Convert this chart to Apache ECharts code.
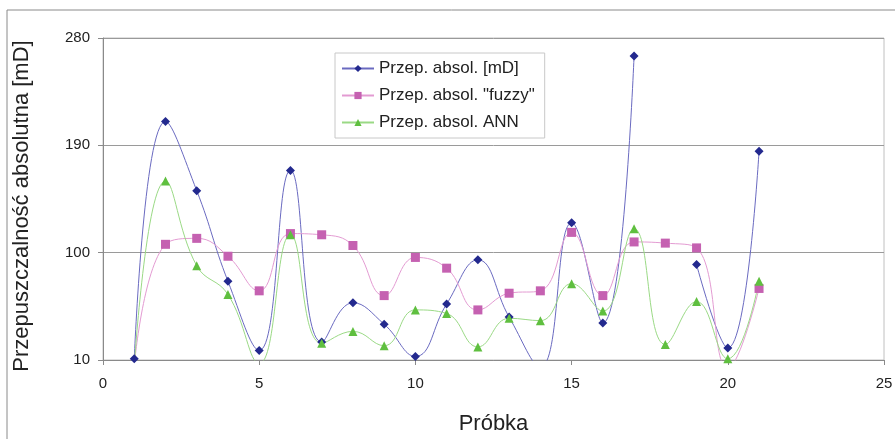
<!DOCTYPE html>
<html>
<head>
<meta charset="utf-8">
<script src="https://cdn.jsdelivr.net/npm/echarts@6/dist/echarts.min.js"></script>
<style>html,body{margin:0;padding:0;background:#fff;}#c{width:895px;height:439px;}</style>
</head>
<body>
<div id="c"></div>
<script>
const samples = [1,2,3,4,5,6,7,8,9,10,11,12,13,14,15,16,17,18,19,20,21];
const absol = [11,210,152,76,18,169,25,58,40,13,57,94,46,4,125,41,265,null,90,20,185];
const fuzzy = [5,107,112,97,68,116,115,106,64,96,87,52,66,68,117,64,109,108,104,3,70];
const ann = [5,160,89,65,7,115,24,34,22,52,49,21,45,43,74,51,120,23,59,11,76];
const seriesNames = ['Przep. absol. [mD]', 'Przep. absol. "fuzzy"', 'Przep. absol. ANN'];
const xTicks = {min: 0, max: 25, step: 5};
const yTicks = {min: 10, max: 280, step: 90};
const yTitle = 'Przepuszczalność absolutna [mD]';
const xTitle = 'Próbka';

const zip = (vals) => samples.map((s, i) => [s, vals[i]]);
const font = 'Liberation Sans, Arial, sans-serif';
const chart = echarts.init(document.getElementById('c'), null, {renderer: 'canvas'});
chart.setOption({
  backgroundColor: '#fff',
  animation: false,
  graphic: [
    {type: 'rect', shape: {x: 7, y: 10, width: 900, height: 440}, style: {fill: 'none', stroke: '#8a8a8a', lineWidth: 1}, silent: true},
    {type: 'text', x: 22, y: 206, rotation: Math.PI / 2,
     style: {text: yTitle, fontFamily: font, fontSize: 22, fill: '#222', align: 'center', verticalAlign: 'middle'}}
  ],
  grid: {left: 103, top: 38, right: 11, bottom: 79, show: true, borderColor: '#c0c0c0', borderWidth: 1,
         containLabel: false, outerBoundsMode: 'none'},
  legend: {
    orient: 'vertical', left: 335, top: 53, width: 210,
    padding: [7, 10, 7, 6], itemGap: 10, itemWidth: 32, itemHeight: 9,
    borderColor: '#c8c8c8', borderWidth: 1,
    textStyle: {fontFamily: font, fontSize: 17, color: '#222'},
    data: seriesNames
  },
  xAxis: {
    type: 'value', min: xTicks.min, max: xTicks.max, interval: xTicks.step,
    name: xTitle, nameLocation: 'middle', nameGap: 53,
    nameTextStyle: {fontFamily: font, fontSize: 22, color: '#222'},
    axisLine: {lineStyle: {color: '#8a8a8a'}},
    axisTick: {show: true, length: 5, lineStyle: {color: '#8a8a8a'}},
    axisLabel: {fontFamily: font, fontSize: 15, color: '#222', margin: 16},
    splitLine: {show: false}
  },
  yAxis: {
    type: 'value', min: yTicks.min, max: yTicks.max, interval: yTicks.step,
    axisLine: {show: true, lineStyle: {color: '#8a8a8a'}},
    axisTick: {show: true, length: 5, lineStyle: {color: '#8a8a8a'}},
    axisLabel: {fontFamily: font, fontSize: 15, color: '#222', margin: 13},
    splitLine: {show: true, lineStyle: {color: '#9a9a9a', width: 1}}
  },
  series: [
    {name: seriesNames[0], type: 'line', data: zip(absol), smooth: 0.45, connectNulls: false, clip: true,
     symbol: 'diamond', symbolSize: 9, lineStyle: {color: '#6a6ac0', width: 1},
     itemStyle: {color: '#23298e'}},
    {name: seriesNames[1], type: 'line', data: zip(fuzzy), smooth: 0.45, clip: true,
     symbol: 'rect', symbolSize: 9, lineStyle: {color: '#e39bd2', width: 1},
     itemStyle: {color: '#c561b1'}},
    {name: seriesNames[2], type: 'line', data: zip(ann), smooth: 0.45, clip: true,
     symbol: 'triangle', symbolSize: 9, lineStyle: {color: '#9ad985', width: 1},
     itemStyle: {color: '#5fbf3f'}}
  ]
});
</script>
</body>
</html>
